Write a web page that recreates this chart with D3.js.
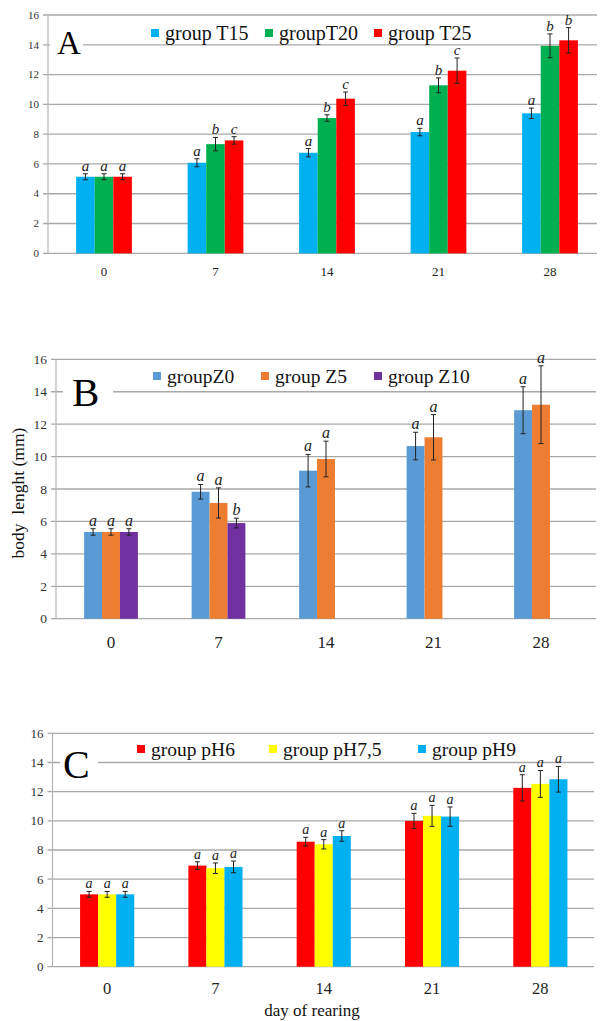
<!DOCTYPE html>
<html><head><meta charset="utf-8">
<script src="https://cdn.jsdelivr.net/npm/d3@7"></script>
<style>body{margin:0;background:#fff}svg{display:block}</style>
</head><body>
<svg id="chart" width="601" height="1021"></svg>
<script>
// ---------- data ----------
const days = ["0", "7", "14", "21", "28"];
const yTicks = [0, 2, 4, 6, 8, 10, 12, 14, 16];

// Panel A (temperature)
const seriesA = ["group T15", "groupT20", "group T25"];
const t15Mean = [5.14, 6.08, 6.75, 8.14, 9.4];
const t15Err  = [0.2, 0.27, 0.28, 0.25, 0.35];
const t15Sig  = ["a", "a", "a", "a", "a"];
const t20Mean = [5.14, 7.33, 9.08, 11.28, 13.93];
const t20Err  = [0.2, 0.45, 0.22, 0.5, 0.8];
const t20Sig  = ["a", "b", "b", "b", "b"];
const t25Mean = [5.14, 7.58, 10.38, 12.26, 14.3];
const t25Err  = [0.2, 0.25, 0.45, 0.85, 0.85];
const t25Sig  = ["a", "c", "c", "c", "b"];

// Panel B (Z)
const seriesB = ["groupZ0", "group Z5", "group Z10"];
const z0Mean = [5.35, 7.83, 9.13, 10.65, 12.86];
const z0Err  = [0.2, 0.45, 1.0, 0.85, 1.45];
const z0Sig  = ["a", "a", "a", "a", "a"];
const z5Mean = [5.35, 7.14, 9.85, 11.19, 13.2];
const z5Err  = [0.2, 0.93, 1.1, 1.4, 2.4];
const z5Sig  = ["a", "a", "a", "a", "a"];
const z10Mean = [5.35, 5.9, null, null, null];
const z10Err  = [0.2, 0.3, null, null, null];
const z10Sig  = ["a", "b", null, null, null];

// Panel C (pH)
const seriesC = ["group pH6", "group pH7,5", "group pH9"];
const ph6Mean  = [4.96, 6.93, 8.57, 9.99, 12.26];
const ph6Err   = [0.2, 0.26, 0.3, 0.52, 0.9];
const ph6Sig   = ["a", "a", "a", "a", "a"];
const ph75Mean = [4.96, 6.75, 8.39, 10.34, 12.53];
const ph75Err  = [0.2, 0.36, 0.32, 0.72, 0.92];
const ph75Sig  = ["a", "a", "a", "a", "a"];
const ph9Mean  = [4.96, 6.84, 8.96, 10.29, 12.85];
const ph9Err   = [0.2, 0.4, 0.36, 0.66, 0.88];
const ph9Sig   = ["a", "a", "a", "a", "a"];

// ---------- drawing ----------
const FONT = "'Liberation Serif','Times New Roman',Times,serif";
const svg = d3.select("#chart");

function panel(cfg) {
  const g = svg.append("g");
  const x = d3.scaleBand().domain(days).range(cfg.xRange).paddingInner(cfg.pad).paddingOuter(cfg.pad / 2);
  const xs = d3.scaleBand().domain(d3.range(cfg.series.length)).range([0, x.bandwidth()]).padding(0);
  const y = d3.scaleLinear().domain([0, 16]).range(cfg.yRange);

  // gridlines
  g.append("g").selectAll("line").data(yTicks).join("line")
    .attr("x1", cfg.axisX - 5).attr("x2", cfg.gridEnd)
    .attr("y1", d => y(d)).attr("y2", d => y(d))
    .attr("stroke", "#a8a8a8").attr("stroke-width", 1.3);
  // vertical axis line
  g.append("line").attr("x1", cfg.axisX).attr("x2", cfg.axisX)
    .attr("y1", y(0)).attr("y2", y(16)).attr("stroke", "#b4b4b4").attr("stroke-width", 1.2);
  // y tick labels
  g.append("g").selectAll("text").data(yTicks).join("text")
    .attr("x", cfg.axisX - 9).attr("y", d => y(d)).attr("dy", "0.34em")
    .attr("text-anchor", "end").attr("font-family", FONT).attr("font-size", cfg.tickFont)
    .attr("fill", "#333").text(d => d);
  // x labels
  g.append("g").selectAll("text").data(days).join("text")
    .attr("x", d => x(d) + x.bandwidth() / 2).attr("y", cfg.xLabelY).attr("dy", "0.35em")
    .attr("text-anchor", "middle").attr("font-family", FONT).attr("font-size", cfg.xFont)
    .attr("fill", "#222").text(d => d);

  // big letter with white box
  g.append("rect").attr("x", cfg.letterBox[0]).attr("width", cfg.letterBox[1] - cfg.letterBox[0])
    .attr("y", cfg.letterY - cfg.letterFont * 0.72).attr("height", cfg.letterFont * 0.78).attr("fill", "#fff");
  g.append("text").attr("x", cfg.letterX).attr("y", cfg.letterY).attr("font-family", FONT)
    .attr("font-size", cfg.letterFont).attr("fill", "#000").text(cfg.letter);

  // bars
  cfg.series.forEach((s, si) => {
    const rows = days.map((d, i) => ({ d, v: s.mean[i], e: s.err[i], sig: s.sig[i] })).filter(r => r.v != null);
    const bg = g.append("g");
    bg.selectAll("rect").data(rows).join("rect")
      .attr("x", r => x(r.d) + xs(si)).attr("width", xs.bandwidth())
      .attr("y", r => y(r.v)).attr("height", r => y(0) - y(r.v)).attr("fill", s.color);
    const eg = bg.append("g").attr("stroke", "#222").attr("stroke-width", 1);
    rows.forEach(r => {
      const cx = x(r.d) + xs(si) + xs.bandwidth() / 2;
      eg.append("line").attr("x1", cx).attr("x2", cx).attr("y1", y(r.v + r.e)).attr("y2", y(r.v - r.e));
      eg.append("line").attr("x1", cx - 2.5).attr("x2", cx + 2.5).attr("y1", y(r.v + r.e)).attr("y2", y(r.v + r.e));
      eg.append("line").attr("x1", cx - 2.5).attr("x2", cx + 2.5).attr("y1", y(r.v - r.e)).attr("y2", y(r.v - r.e));
    });
    bg.append("g").selectAll("text").data(rows).join("text")
      .attr("x", r => x(r.d) + xs(si) + xs.bandwidth() / 2).attr("y", r => y(r.v + r.e) - 3)
      .attr("text-anchor", "middle").attr("font-family", FONT).attr("font-style", "italic")
      .attr("font-size", cfg.sigFont).attr("fill", "#222").text(r => r.sig);
  });

  // legend
  cfg.series.forEach((s, si) => {
    const tx = cfg.legendX[si];
    g.append("rect").attr("x", tx - 14).attr("y", cfg.legendY - 11).attr("width", 8).attr("height", 8).attr("fill", s.color);
    g.append("text").attr("x", tx).attr("y", cfg.legendY).attr("font-family", FONT)
      .attr("font-size", cfg.legendFont).attr("fill", "#111").text(s.name);
  });
  return { x, y };
}

panel({
  xRange: [48.25, 605.75], pad: 0.5, yRange: [253.3, 15], axisX: 48, gridEnd: 597,
  tickFont: 11, xFont: 13, xLabelY: 271, sigFont: 15,
  letter: "A", letterX: 57, letterY: 54, letterFont: 33, letterBox: [50, 83],
  legendX: [165, 279, 388], legendY: 40, legendFont: 20,
  series: [
    { name: seriesA[0], color: "#00B0F0", mean: t15Mean, err: t15Err, sig: t15Sig },
    { name: seriesA[1], color: "#00B050", mean: t20Mean, err: t20Err, sig: t20Sig },
    { name: seriesA[2], color: "#FF0000", mean: t25Mean, err: t25Err, sig: t25Sig }
  ]
});

panel({
  xRange: [57.25, 594.75], pad: 0.5, yRange: [618.7, 359.3], axisX: 56, gridEnd: 596,
  tickFont: 13.5, xFont: 17, xLabelY: 642, sigFont: 16,
  letter: "B", letterX: 72, letterY: 406, letterFont: 41, letterBox: [63, 113],
  legendX: [167, 275, 388], legendY: 383, legendFont: 19.5,
  series: [
    { name: seriesB[0], color: "#5B9BD5", mean: z0Mean, err: z0Err, sig: z0Sig },
    { name: seriesB[1], color: "#ED7D31", mean: z5Mean, err: z5Err, sig: z5Sig },
    { name: seriesB[2], color: "#7030A0", mean: z10Mean, err: z10Err, sig: z10Sig }
  ]
});

panel({
  xRange: [53, 594.5], pad: 0.5, yRange: [966.7, 733.3], axisX: 52.5, gridEnd: 594,
  tickFont: 13, xFont: 16.5, xLabelY: 988, sigFont: 14,
  letter: "C", letterX: 63, letterY: 778, letterFont: 40, letterBox: [60, 98],
  legendX: [151, 283, 432], legendY: 756, legendFont: 19.5,
  series: [
    { name: seriesC[0], color: "#FF0000", mean: ph6Mean, err: ph6Err, sig: ph6Sig },
    { name: seriesC[1], color: "#FFFF00", mean: ph75Mean, err: ph75Err, sig: ph75Sig },
    { name: seriesC[2], color: "#00B0F0", mean: ph9Mean, err: ph9Err, sig: ph9Sig }
  ]
});

// axis titles
svg.append("text").attr("transform", "translate(24,493) rotate(-90)")
  .attr("text-anchor", "middle").attr("font-family", FONT).attr("font-size", 17.5)
  .attr("fill", "#111").attr("xml:space", "preserve").style("white-space", "pre").text("body  lenght (mm)");
svg.append("text").attr("x", 312).attr("y", 1016)
  .attr("text-anchor", "middle").attr("font-family", FONT).attr("font-size", 17)
  .attr("fill", "#111").text("day of rearing");
</script>
</body></html>
